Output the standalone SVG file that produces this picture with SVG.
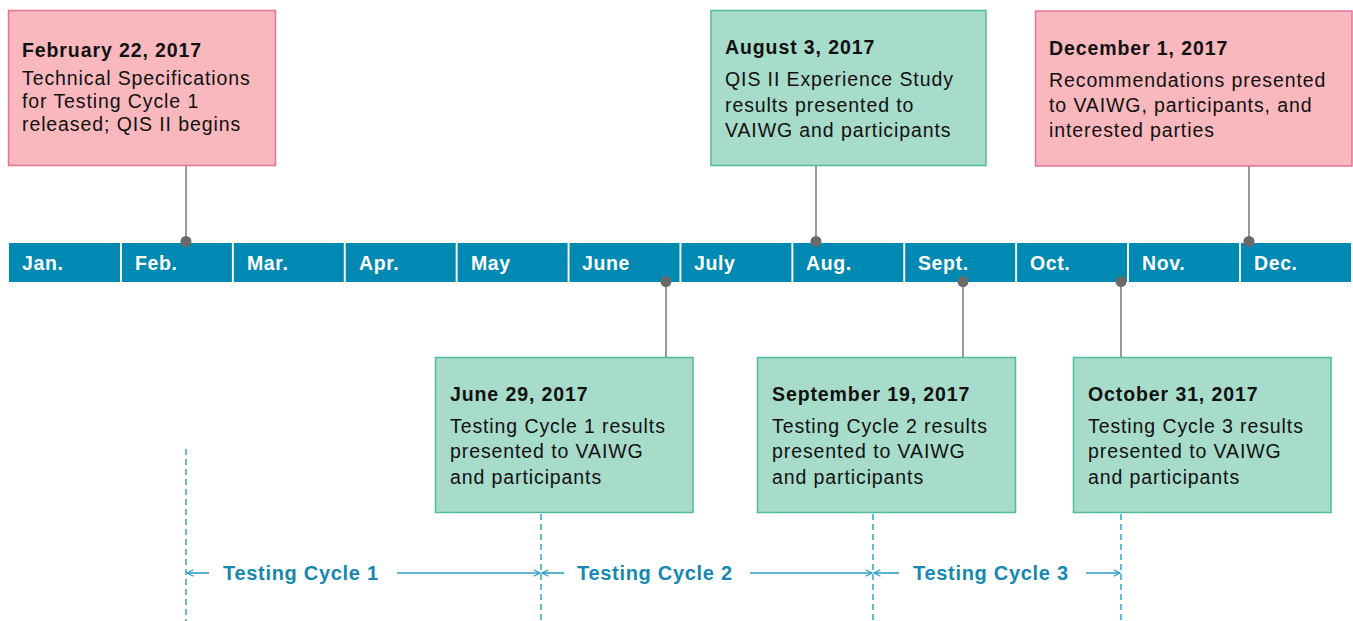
<svg xmlns="http://www.w3.org/2000/svg" width="1353" height="621" viewBox="0 0 1353 621">
<style>
.pink{fill:#f8b8bd;stroke:#e2739a;stroke-width:1.5}
.green{fill:#a7dbca;stroke:#52bb9f;stroke-width:1.5}
.hd{font-family:"Liberation Sans",Arial,sans-serif;font-weight:bold;font-size:19.5px;letter-spacing:0.9px;fill:#111}
.bd{font-family:"Liberation Sans",Arial,sans-serif;font-size:19.5px;letter-spacing:0.9px;fill:#111}
.seg{fill:#0089b3}
.mon{font-family:"Liberation Sans",Arial,sans-serif;font-weight:bold;font-size:19.5px;letter-spacing:0.6px;fill:#fff}
.conn{stroke:#808080;stroke-width:1.6;fill:none}
.dot{fill:#6a6a6a}
.dash{stroke:#45a9cb;stroke-width:1.6;stroke-dasharray:6 4;fill:none}
.arr{stroke:#2e9fc4;stroke-width:1.6;fill:none}
.cyc{font-family:"Liberation Sans",Arial,sans-serif;font-weight:bold;font-size:20px;letter-spacing:0.7px;fill:#1688b0}
</style>
<defs>
<marker id="ah" viewBox="0 0 10 10" refX="9" refY="5" markerWidth="8" markerHeight="8" markerUnits="userSpaceOnUse" orient="auto">
<path d="M1,1 L9,5 L1,9" fill="none" stroke="#2e9fc4" stroke-width="1.6"/>
</marker>
</defs>
<rect width="1353" height="621" fill="#fff"/>

<g id="timeline">
<rect class="seg" x="9" y="243" width="111" height="39"/>
<rect class="seg" x="121.9" y="243" width="110" height="39"/>
<rect class="seg" x="233.8" y="243" width="110" height="39"/>
<rect class="seg" x="345.7" y="243" width="110" height="39"/>
<rect class="seg" x="457.6" y="243" width="110" height="39"/>
<rect class="seg" x="569.5" y="243" width="110" height="39"/>
<rect class="seg" x="681.4" y="243" width="110" height="39"/>
<rect class="seg" x="793.3" y="243" width="110" height="39"/>
<rect class="seg" x="905.2" y="243" width="110" height="39"/>
<rect class="seg" x="1017.1" y="243" width="110" height="39"/>
<rect class="seg" x="1129" y="243" width="110" height="39"/>
<rect class="seg" x="1240.9" y="243" width="110.1" height="39"/>
<text class="mon" x="22" y="270">Jan.</text>
<text class="mon" x="135" y="270">Feb.</text>
<text class="mon" x="247" y="270">Mar.</text>
<text class="mon" x="359" y="270">Apr.</text>
<text class="mon" x="471" y="270">May</text>
<text class="mon" x="582" y="270">June</text>
<text class="mon" x="694" y="270">July</text>
<text class="mon" x="806" y="270">Aug.</text>
<text class="mon" x="918" y="270">Sept.</text>
<text class="mon" x="1030" y="270">Oct.</text>
<text class="mon" x="1142" y="270">Nov.</text>
<text class="mon" x="1254" y="270">Dec.</text>
</g>

<g id="connectors">
<line class="conn" x1="186" y1="165" x2="186" y2="241"/>
<line class="conn" x1="816" y1="165" x2="816" y2="241"/>
<line class="conn" x1="1249" y1="166" x2="1249" y2="241"/>
<line class="conn" x1="666" y1="282" x2="666" y2="357"/>
<line class="conn" x1="963" y1="282" x2="963" y2="357"/>
<line class="conn" x1="1121" y1="282" x2="1121" y2="357"/>
<circle class="dot" cx="186" cy="241.5" r="5.5"/>
<circle class="dot" cx="816" cy="241.5" r="5.5"/>
<circle class="dot" cx="1249" cy="241.5" r="5.5"/>
<circle class="dot" cx="666" cy="281.5" r="5.5"/>
<circle class="dot" cx="963" cy="281.5" r="5.5"/>
<circle class="dot" cx="1121" cy="281.5" r="5.5"/>
<line class="dash" x1="186" y1="449" x2="186" y2="621"/>
<line class="dash" x1="541" y1="514" x2="541" y2="621"/>
<line class="dash" x1="873" y1="514" x2="873" y2="621"/>
<line class="dash" x1="1121" y1="514" x2="1121" y2="621"/>
<line class="arr" x1="209" y1="573" x2="187" y2="573" marker-end="url(#ah)"/>
<line class="arr" x1="397" y1="573" x2="540" y2="573" marker-end="url(#ah)"/>
<line class="arr" x1="564" y1="573" x2="542" y2="573" marker-end="url(#ah)"/>
<line class="arr" x1="750" y1="573" x2="872" y2="573" marker-end="url(#ah)"/>
<line class="arr" x1="899" y1="573" x2="874" y2="573" marker-end="url(#ah)"/>
<line class="arr" x1="1086" y1="573" x2="1120" y2="573" marker-end="url(#ah)"/>
</g>

<g id="cycles">
<text class="cyc" x="223" y="580">Testing Cycle 1</text>
<text class="cyc" x="577" y="580">Testing Cycle 2</text>
<text class="cyc" x="913" y="580">Testing Cycle 3</text>
</g>

<g id="feb22">
<rect class="pink" x="8.5" y="10.5" width="267" height="155"/>
<text class="hd" x="22" y="57">February 22, 2017</text>
<text class="bd" x="22" y="85">Technical Specifications</text>
<text class="bd" x="22" y="108">for Testing Cycle 1</text>
<text class="bd" x="22" y="130.5">released; QIS II begins</text>
</g>

<g id="aug3">
<rect class="green" x="711" y="10.5" width="275" height="155"/>
<text class="hd" x="725" y="53.5">August 3, 2017</text>
<text class="bd" x="725" y="86">QIS II Experience Study</text>
<text class="bd" x="725" y="111.5">results presented to</text>
<text class="bd" x="725" y="137">VAIWG and participants</text>
</g>

<g id="dec1">
<rect class="pink" x="1035.5" y="11" width="316.5" height="155"/>
<text class="hd" x="1049" y="54.5">December 1, 2017</text>
<text class="bd" x="1049" y="87">Recommendations presented</text>
<text class="bd" x="1049" y="112">to VAIWG, participants, and</text>
<text class="bd" x="1049" y="137">interested parties</text>
</g>

<g id="jun29">
<rect class="green" x="435.5" y="357.5" width="257.5" height="155"/>
<text class="hd" x="450" y="401">June 29, 2017</text>
<text class="bd" x="450" y="432.5">Testing Cycle 1 results</text>
<text class="bd" x="450" y="458">presented to VAIWG</text>
<text class="bd" x="450" y="483.5">and participants</text>
</g>

<g id="sep19">
<rect class="green" x="757.5" y="357.5" width="258" height="155"/>
<text class="hd" x="772" y="401">September 19, 2017</text>
<text class="bd" x="772" y="432.5">Testing Cycle 2 results</text>
<text class="bd" x="772" y="458">presented to VAIWG</text>
<text class="bd" x="772" y="483.5">and participants</text>
</g>

<g id="oct31">
<rect class="green" x="1073.5" y="357.5" width="257.5" height="155"/>
<text class="hd" x="1088" y="401">October 31, 2017</text>
<text class="bd" x="1088" y="432.5">Testing Cycle 3 results</text>
<text class="bd" x="1088" y="458">presented to VAIWG</text>
<text class="bd" x="1088" y="483.5">and participants</text>
</g>
</svg>
